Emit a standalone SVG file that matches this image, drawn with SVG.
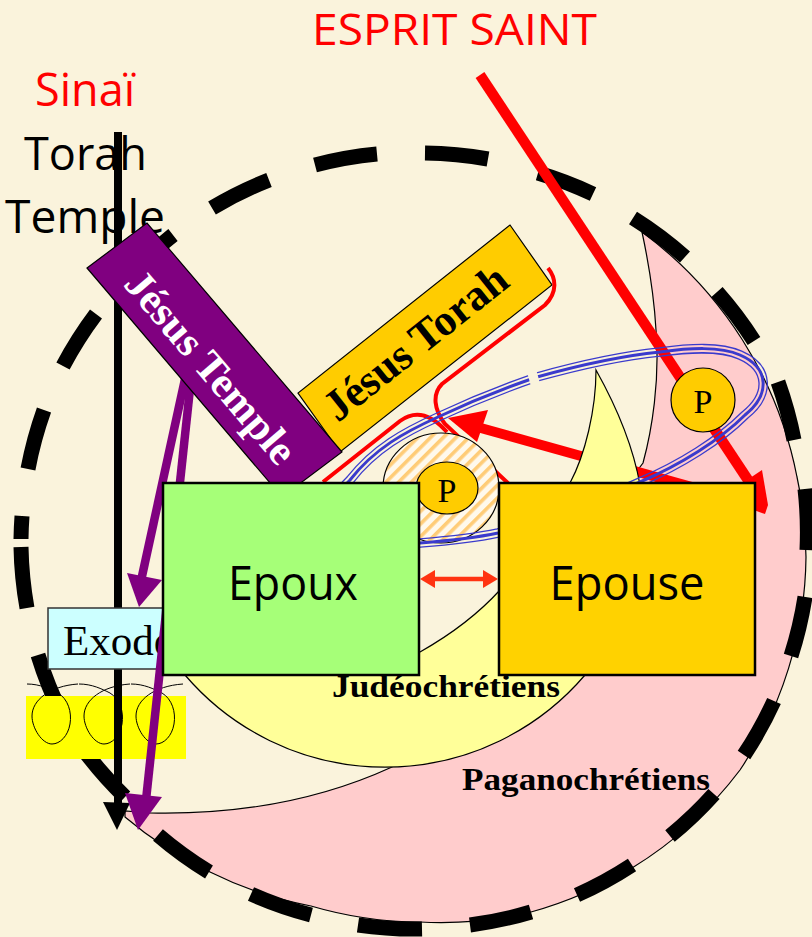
<svg xmlns="http://www.w3.org/2000/svg" width="812" height="937" viewBox="0 0 812 937">
<style>
.ln{stroke:#000;stroke-width:1.2}
.sans{font-family:"Open Sans","Noto Sans",sans-serif}
.serif{font-family:"Liberation Serif",serif}
.b{font-weight:bold}
.box{stroke:#000;stroke-width:2.5}
.egg{fill:none;stroke:#000;stroke-width:1}
.pl{fill:none;stroke:#800080;stroke-width:8.5}
.rl{fill:none;stroke:#FF0000;stroke-width:4}
</style>
<defs>
<pattern id="hatch" width="9" height="9" patternUnits="userSpaceOnUse" patternTransform="rotate(-45)">
<rect width="9" height="9" fill="#FFF9EC"/><rect width="9" height="3.6" fill="#FFCC77"/>
</pattern>
<path id="ring" d="M350,480 C375,448 405,432 438,417 C470,402 505,388 537,377 C580,365 620,356 660,352 C690,348 720,346 740,355 C770,368 770,395 745,415 C720,440 680,465 640,482 C600,500 550,520 498,533 C470,539 445,541 420,543 C350,552 300,530 350,480 Z"/>
<mask id="ringmask" maskUnits="userSpaceOnUse" x="0" y="0" width="812" height="937">
<use href="#ring" fill="none" stroke="#fff" stroke-width="9.6"/>
<use href="#ring" fill="none" stroke="#000" stroke-width="7"/>
<use href="#ring" fill="none" stroke="#fff" stroke-width="3"/>
<polygon points="527,372 536,369 541,387 532,390" fill="#000"/>
</mask>
</defs>
<rect width="812" height="937" fill="#FAF3DC"/>

<g id="pagano-region"><path d="M642,232 A400,400 0 0 1 797,477 A390,390 0 0 1 806,557 A390,390 0 0 1 740,770 A390,390 0 0 1 632,868 A390,390 0 0 1 531,912 A390,390 0 0 1 420,922 A390,390 0 0 1 311,906 A390,390 0 0 1 210,872 A390,390 0 0 1 125,817 L125,811 L150,813 C240,815 320,800 392,767 L500,650 L643,463 C652,430 660,380 656,330 C654,295 648,260 642,232 Z" fill="#FFCCCC" class="ln"/></g>

<g id="boundary"><path fill="none" stroke="#000" stroke-width="15" d="M212,208 A390,390 0 0 1 269,180 M315,165 A390,390 0 0 1 377,154 M425,153 A390,390 0 0 1 488,159 M538,173 A390,390 0 0 1 593,194 M633,218 A390,390 0 0 1 685,257 M717,292 A390,390 0 0 1 754,341 M778,382 A390,390 0 0 1 794,440 M805,489 A390,390 0 0 1 807,550 M805,597 A390,390 0 0 1 791,656 M774,701 A390,390 0 0 1 744,755 M714,794 A390,390 0 0 1 670,836 M632,865 A390,390 0 0 1 577,895 M531,912 A390,390 0 0 1 470,925 M422,929 A390,390 0 0 1 358,925 M311,915 A390,390 0 0 1 251,894 M209,872 A390,390 0 0 1 158,835 M125,797 A390,390 0 0 1 80,745 M62,715 A390,390 0 0 1 38,655 M27,608 A390,390 0 0 1 21,547 M21,539 A390,390 0 0 1 22,516 M28,469 A390,390 0 0 1 44,410 M63,366 A390,390 0 0 1 96,314 M125,280 A390,390 0 0 1 173,235"/></g>

<g id="labels">
<text x="35" y="106" class="sans" font-size="45" fill="#FF0000" textLength="100" lengthAdjust="spacingAndGlyphs">Sinaï</text>
<text x="24" y="170" class="sans" font-size="46" fill="#000" textLength="123" lengthAdjust="spacingAndGlyphs">Torah</text>
<text x="5" y="233" class="sans" font-size="46" fill="#000" textLength="160" lengthAdjust="spacingAndGlyphs">Temple</text>
<text x="312" y="45" class="sans" font-size="43" fill="#FF0000" textLength="285" lengthAdjust="spacingAndGlyphs">ESPRIT SAINT</text>
</g>

<g id="eggs">
<rect x="26" y="696" width="160" height="63" fill="#FFFF00"/>
<path id="egg1" class="egg" d="M27,684 C40,684 50,689 58,693 C68,699 72,712 70,724 C68,736 60,744 52,744 C42,744 32,728 32,716 C32,700 50,686 78,684"/>
<path id="egg2" class="egg" d="M79,684 C92,684 102,689 110,693 C120,699 124,712 122,724 C120,736 112,744 104,744 C94,744 84,728 84,716 C84,700 102,686 130,684"/>
<path id="egg3" class="egg" d="M131,684 C144,684 154,689 162,693 C172,699 176,712 174,724 C172,736 164,744 156,744 C146,744 136,728 136,716 C136,700 154,686 183,684"/>
</g>

<g id="connector-sinai">
<rect x="114" y="132" width="8" height="675" fill="#000"/>
<polygon points="103,802 130,803 117,830" fill="#000"/>
</g>

<g id="exode"><rect x="48" y="608" width="130" height="61" fill="#CCFFFF" stroke="#333" stroke-width="1.5"/>
<text x="63" y="655" class="serif" font-size="43" fill="#000">Exode</text></g>

<g id="connectors-temple">
<path class="pl" d="M187,370 L139,590"/>
<polygon points="127,573 162,580 139,607" fill="#800080"/>
<path class="pl" d="M192,370 L146,800"/>
<polygon points="125,793 162,797 138,830" fill="#800080"/>
</g>

<g id="jesus-torah"><polygon points="510,225 552,285 340,452 298,393" fill="#FFCC00" class="ln"/>
<text transform="translate(416,343) rotate(-38.5)" y="14" text-anchor="middle" class="serif b" font-size="44" fill="#000" textLength="222" lengthAdjust="spacingAndGlyphs">Jésus Torah</text></g>
<g id="jesus-temple"><polygon points="87,268 147,223 342,452 282,497" fill="#800080" class="ln"/>
<text transform="translate(211,367) rotate(49.6)" y="14" text-anchor="middle" class="serif b" font-size="42" fill="#fff" textLength="240" lengthAdjust="spacingAndGlyphs">Jésus Temple</text></g>

<g id="connectors-thin">
<path class="rl" d="M548,268 C556,278 558,292 545,305 L442,384 C432,394 434,410 445,424 L510,485"/>
<path class="rl" d="M323,482 L400,421 C415,410 430,413 447,432"/>
</g>

<g id="hatched-circle"><ellipse cx="441" cy="488" rx="58" ry="55" fill="url(#hatch)" class="ln"/></g>

<g id="connector-center">
<path d="M760,506 L470,425" fill="none" stroke="#FF0000" stroke-width="10"/>
<polygon points="448,418 488,410 477,442" fill="#FF0000"/>
</g>

<g id="judeo-region"><path d="M596,370 C610,395 632,440 640,485 L585,675 A263,263 0 0 1 185,675 L420,652 C450,635 480,612 500,590 L570,483 C585,455 596,410 596,370 Z" fill="#FFFF99" class="ln"/></g>

<g id="connector-spirit">
<path d="M480,75 L748,480" fill="none" stroke="#FF0000" stroke-width="10.5"/>
<polygon points="762,470 768,505 765,514 720,498" fill="#FF0000"/>
</g>
<g id="person-right"><circle cx="703" cy="400" r="32" fill="#FFCC00" class="ln"/>
<text x="703" y="413" text-anchor="middle" class="serif" font-size="34">P</text></g>
<g id="person-center"><ellipse cx="447" cy="488" rx="31" ry="26" fill="#FFCC00" class="ln"/>
<text x="447" y="502" text-anchor="middle" class="serif" font-size="34">P</text></g>

<g id="connector-ring"><rect width="812" height="937" fill="#3A3ACC" mask="url(#ringmask)"/></g>

<g id="epoux"><rect x="163" y="483" width="256" height="192" fill="#A6FF78" class="box"/>
<text x="293" y="600" text-anchor="middle" class="sans" font-size="47" fill="#000" textLength="130" lengthAdjust="spacingAndGlyphs">Epoux</text></g>
<g id="epouse"><rect x="499" y="483" width="256" height="192" fill="#FFD200" class="box"/>
<text x="627" y="600" text-anchor="middle" class="sans" font-size="47" fill="#000" textLength="155" lengthAdjust="spacingAndGlyphs">Epouse</text></g>

<g id="connector-couple"><path d="M430,579 L488,579" stroke="#FF3311" stroke-width="4.5" fill="none"/>
<polygon points="420,579 435,570 435,588" fill="#FF3311"/><polygon points="498,579 483,570 483,588" fill="#FF3311"/></g>

<text x="332" y="697" class="serif b" font-size="32" fill="#000" textLength="228" lengthAdjust="spacingAndGlyphs">Judéochrétiens</text>
<text x="462" y="790" class="serif b" font-size="32" fill="#000" textLength="248" lengthAdjust="spacingAndGlyphs">Paganochrétiens</text>
</svg>
